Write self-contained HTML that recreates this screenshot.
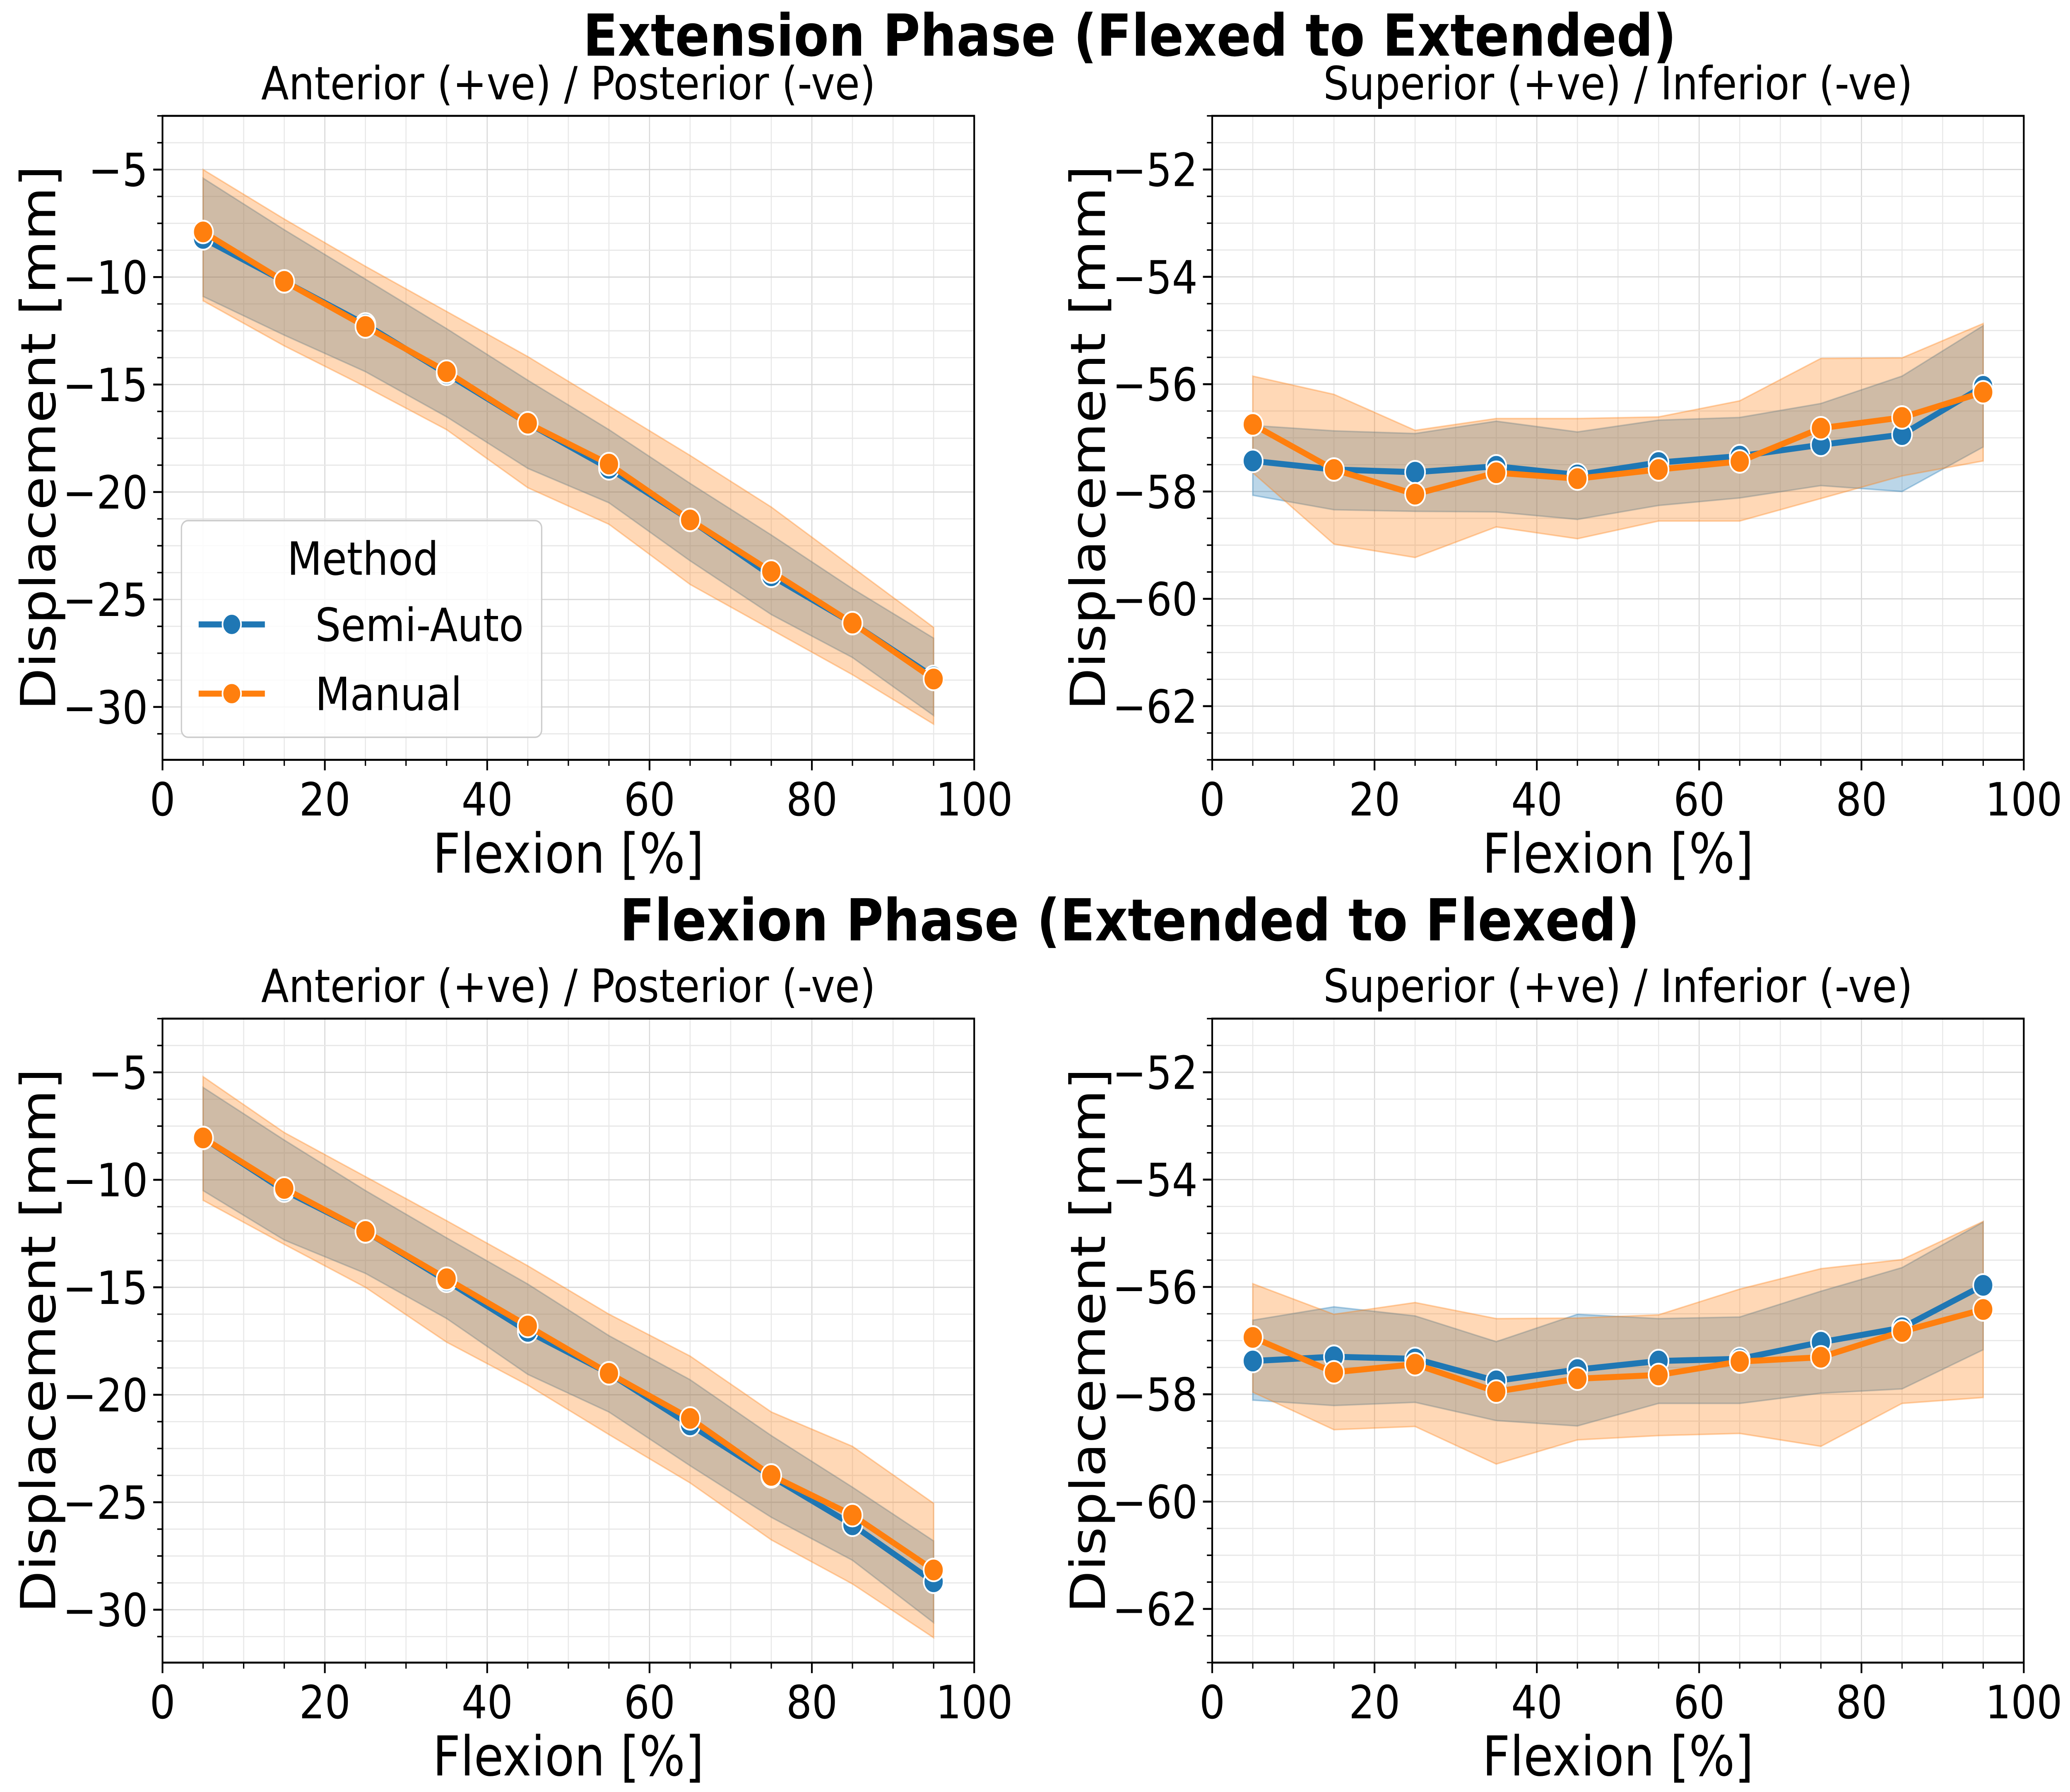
<!DOCTYPE html>
<html><head><meta charset="utf-8"><style>
html,body{margin:0;padding:0;background:#fff;overflow:hidden;width:100vw;height:100vh;}
svg{display:block;position:absolute;left:0;top:0;width:100vw;height:100vh;font-family:"DejaVu Sans","Liberation Sans",sans-serif;}
</style></head><body>
<svg id="fig" viewBox="0 0 1563 1191" preserveAspectRatio="none" xmlns="http://www.w3.org/2000/svg">
<rect width="1563" height="1191" fill="#fff"/>
<text x="853" y="37" text-anchor="middle" font-size="38.5" font-weight="bold">Extension Phase (Flexed to Extended)</text>
<text x="853" y="625" text-anchor="middle" font-size="38.5" font-weight="bold">Flexion Phase (Extended to Flexed)</text>
<g id="plots"></g>
</svg>
<script>
const xCats = [5,15,25,35,45,55,65,75,85,95];
// Panel 1: Extension AP
const p1Semi = [-8.2,-10.2,-12.2,-14.5,-16.8,-18.9,-21.3,-23.9,-26.1,-28.6];
const p1SemiHi = [-5.4,-7.8,-10.1,-12.4,-14.8,-17.1,-19.6,-22.0,-24.5,-26.8];
const p1SemiLo = [-10.9,-12.7,-14.4,-16.5,-18.9,-20.5,-23.2,-25.7,-27.7,-30.4];
const p1Man = [-7.9,-10.2,-12.3,-14.4,-16.8,-18.7,-21.3,-23.7,-26.1,-28.7];
const p1ManHi = [-5.0,-7.3,-9.5,-11.6,-13.7,-16.0,-18.3,-20.7,-23.5,-26.3];
const p1ManLo = [-11.1,-13.2,-15.1,-17.1,-19.8,-21.5,-24.3,-26.4,-28.5,-30.8];
// Panel 2: Extension SI
const p2Semi = [-57.43,-57.59,-57.64,-57.53,-57.69,-57.46,-57.34,-57.13,-56.94,-56.04];
const p2SemiHi = [-56.77,-56.87,-56.92,-56.69,-56.89,-56.67,-56.62,-56.36,-55.85,-54.91];
const p2SemiLo = [-58.07,-58.34,-58.37,-58.38,-58.52,-58.26,-58.12,-57.89,-58.0,-57.17];
const p2Man = [-56.75,-57.59,-58.05,-57.65,-57.76,-57.59,-57.44,-56.82,-56.62,-56.15];
const p2ManHi = [-55.85,-56.19,-56.86,-56.64,-56.64,-56.61,-56.31,-55.52,-55.51,-54.87];
const p2ManLo = [-57.65,-58.98,-59.23,-58.66,-58.88,-58.55,-58.55,-58.13,-57.71,-57.43];
// Panel 3: Flexion AP
const p3Semi = [-8.05,-10.5,-12.4,-14.7,-17.05,-19.0,-21.4,-23.8,-26.05,-28.7];
const p3SemiHi = [-5.7,-8.15,-10.5,-12.7,-14.85,-17.25,-19.3,-21.9,-24.3,-26.8];
const p3SemiLo = [-10.5,-12.8,-14.35,-16.45,-19.05,-20.8,-23.3,-25.7,-27.7,-30.6];
const p3Man = [-8.05,-10.4,-12.4,-14.6,-16.8,-19.0,-21.1,-23.75,-25.6,-28.15];
const p3ManHi = [-5.2,-7.8,-9.85,-11.9,-14.0,-16.25,-18.2,-20.8,-22.4,-25.05];
const p3ManLo = [-10.95,-13.0,-15.0,-17.55,-19.55,-21.85,-24.1,-26.75,-28.8,-31.3];
// Panel 4: Flexion SI
const p4Semi = [-57.38,-57.30,-57.34,-57.75,-57.54,-57.38,-57.34,-57.03,-56.76,-55.97];
const p4SemiHi = [-56.62,-56.37,-56.54,-57.02,-56.51,-56.59,-56.56,-56.08,-55.64,-54.79];
const p4SemiLo = [-58.11,-58.21,-58.15,-58.49,-58.59,-58.17,-58.17,-57.98,-57.90,-57.17];
const p4Man = [-56.94,-57.59,-57.44,-57.95,-57.71,-57.64,-57.39,-57.31,-56.83,-56.42];
const p4ManHi = [-55.94,-56.51,-56.29,-56.59,-56.58,-56.52,-56.04,-55.66,-55.49,-54.78];
const p4ManLo = [-57.96,-58.66,-58.60,-59.30,-58.85,-58.77,-58.73,-58.97,-58.17,-58.06];
const xTicks = [0,20,40,60,80,100];
const apTicks = [-30,-25,-20,-15,-10,-5];
const siTicks = [-62,-60,-58,-56,-54,-52];
const subTitles = ["Anterior (+ve) / Posterior (-ve)","Superior (+ve) / Inferior (-ve)"];

const NS = "http://www.w3.org/2000/svg";
const root = document.getElementById('plots');
function mk(tag, attrs, parent, text){
  const e = document.createElementNS(NS, tag);
  for (const k in attrs) e.setAttribute(k, attrs[k]);
  if (text !== undefined) e.textContent = text;
  (parent||root).appendChild(e);
  return e;
}
const BLUE="#1f77b4", ORANGE="#ff7f0e";

function panel(id, L, R, T, B, ymin, ymax, yticks, minorStep, title, semi, semiHi, semiLo, man, manHi, manLo, legend){
  const g = mk('g', {});
  
  
  const sx = v => L + (v-0)/(100-0)*(R-L);
  const sy = v => B - (v-ymin)/(ymax-ymin)*(B-T);
  for (let v=0; v<=100.001; v+=5){
    const l = mk('line',{x1:sx(v),x2:sx(v),y1:T,y2:B,stroke:(v%20===0)?'#d8d8d8':'#e8e8e8','stroke-width':0.8},g);
    
    
  }
  const start = Math.ceil(ymin/minorStep)*minorStep;
  for (let v=start; v<=ymax+1e-6; v+=minorStep){
    const major = yticks.some(t=>Math.abs(t-v)<1e-6);
    const l = mk('line',{x1:L,x2:R,y1:sy(v),y2:sy(v),stroke:major?'#d8d8d8':'#e8e8e8','stroke-width':0.8},g);
    
    
    mk('line',{x1:L-(major?7:4),x2:L,y1:sy(v),y2:sy(v),stroke:'#000','stroke-width':major?1.3:1},g);
  }
  for (let v=0; v<=100.001; v+=5){
    const major = v%20===0;
    mk('line',{x1:sx(v),x2:sx(v),y1:B,y2:B+(major?7:4),stroke:'#000','stroke-width':major?1.3:1},g);
  }
  function band(hi, lo, col, name){
    let d = '';
    xCats.forEach((x,i)=>{ d += (i?'L':'M')+sx(x)+','+sy(hi[i]); });
    for (let i=xCats.length-1;i>=0;i--) d += 'L'+sx(xCats[i])+','+sy(lo[i]);
    d += 'Z';
    const p = mk('path',{d:d,fill:col,'fill-opacity':0.3,stroke:col,'stroke-opacity':0.35,'stroke-width':1},g);
    
    
  }
  band(semiHi, semiLo, BLUE, 'semi-auto-band');
  band(manHi, manLo, ORANGE, 'manual-band');
  function series(vals, col, name){
    const pts = xCats.map((x,i)=>sx(x)+','+sy(vals[i])).join(' ');
    const pl = mk('polyline',{points:pts,fill:'none',stroke:col,'stroke-width':4,'stroke-linejoin':'round'},g);
    
    
    xCats.forEach((x,i)=>{
      const c = mk('circle',{cx:sx(x),cy:sy(vals[i]),r:7.5,fill:col,stroke:'#fff','stroke-width':1.2},g);
      
      
    });
  }
  series(semi, BLUE, 'semi-auto');
  series(man, ORANGE, 'manual');
  const fr = mk('rect',{x:L,y:T,width:R-L,height:B-T,fill:'none',stroke:'#000','stroke-width':1.3},g);
  
  
  xTicks.forEach(v=>{
    const t = mk('text',{x:sx(v),y:B+37,'text-anchor':'middle','font-size':30.5},g,String(v));
    
    
  });
  yticks.forEach(v=>{
    const t = mk('text',{x:L-11,y:sy(v)+11,'text-anchor':'end','font-size':30.5},g,'\u2212'+Math.abs(v));
    
    
  });
  const xl = mk('text',{x:(L+R)/2,y:B+75,'text-anchor':'middle','font-size':36.5},g,'Flexion [%]');
  
  
  const yl = mk('text',{x:0,y:0,'text-anchor':'middle','font-size':36.5,transform:'translate('+(L-81)+','+((T+B)/2)+') rotate(-90)'},g,'Displacement [mm]');
  
  
  const st = mk('text',{x:(L+R)/2,y:T-11,'text-anchor':'middle','font-size':30.5},g,title);
  
  
  if (legend){
    const lg = mk('g',{},g);
    
    
    mk('rect',{x:137,y:346,width:272,height:144,rx:5,fill:'#fff','fill-opacity':0.8,stroke:'#ccc','stroke-width':1},lg);
    const lt = mk('text',{x:274,y:382,'text-anchor':'middle','font-size':30.5},lg,'Method');
    
    
    [['Semi-Auto',BLUE,415],['Manual',ORANGE,461]].forEach(([n,c,y])=>{
      const e = mk('g',{},lg);
      
      
      mk('line',{x1:150,x2:200,y1:y,y2:y,stroke:c,'stroke-width':4},e);
      mk('circle',{cx:175,cy:y,r:7,fill:c,stroke:'#fff','stroke-width':1.2},e);
      mk('text',{x:238,y:y+11,'font-size':30.5},e,n);
    });
  }
}
const LL=122.7, LR=735.6, RL=915.3, RR=1528.1;
panel('ext-ap-panel',LL,LR,77,505,-32.46,-2.5,apTicks,1.25,subTitles[0],p1Semi,p1SemiHi,p1SemiLo,p1Man,p1ManHi,p1ManLo,true);
panel('ext-si-panel',RL,RR,77,505,-63,-51,siTicks,0.5,subTitles[1],p2Semi,p2SemiHi,p2SemiLo,p2Man,p2ManHi,p2ManLo,false);
panel('flex-ap-panel',LL,LR,677,1105,-32.46,-2.5,apTicks,1.25,subTitles[0],p3Semi,p3SemiHi,p3SemiLo,p3Man,p3ManHi,p3ManLo,false);
panel('flex-si-panel',RL,RR,677,1105,-63,-51,siTicks,0.5,subTitles[1],p4Semi,p4SemiHi,p4SemiLo,p4Man,p4ManHi,p4ManLo,false);
</script>
</body></html>
